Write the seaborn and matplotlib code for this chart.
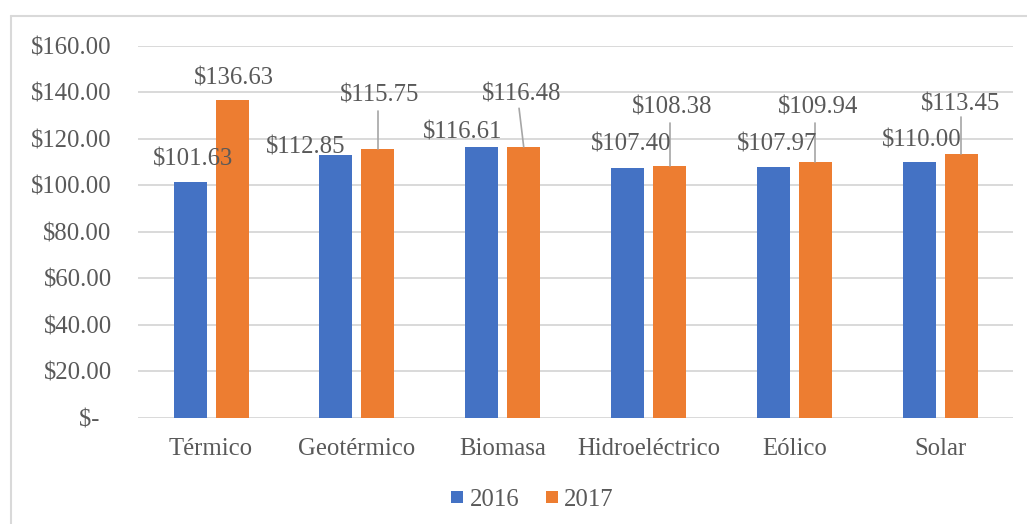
import pandas as pd
import numpy as np
import matplotlib.pyplot as plt
import seaborn as sns
from matplotlib.lines import Line2D

tipos = ['Térmico', 'Geotérmico', 'Biomasa', 'Hidroeléctrico', 'Eólico', 'Solar']
anios = ['2016', '2017']
valores_2016 = [101.63, 112.85, 116.61, 107.40, 107.97, 110.00]
valores_2017 = [136.63, 115.75, 116.48, 108.38, 109.94, 113.45]
yticks = [0, 20, 40, 60, 80, 100, 120, 140, 160]

df = pd.DataFrame({
    'tipo': tipos * 2,
    'anio': [anios[0]] * len(tipos) + [anios[1]] * len(tipos),
    'valor': valores_2016 + valores_2017,
})

color_anio = {'2016': '#4472C4', '2017': '#ED7D31'}
text_color = '#595959'
grid_color = '#D9D9D9'
fs = 17.8

sns.set_theme(style="white")
plt.rcParams['font.family'] = ['Liberation Serif', 'DejaVu Serif']

fig = plt.figure(figsize=(10.27, 5.24), dpi=100)
ax = fig.add_axes([0.1345, 0.2023, 0.852, 0.7105])

sns.barplot(data=df, x='tipo', y='valor', hue='anio', palette=color_anio,
            width=0.576, gap=0.214, errorbar=None, linewidth=0, saturation=1,
            legend=False, ax=ax, zorder=3)

ax.set_ylim(0, 160)
ax.set_xlim(-0.5, len(tipos) - 0.5)
ax.set_yticks(yticks)
ax.set_yticklabels([f'${v:.2f}' if v else '$-  ' for v in yticks])
ax.set_xlabel('')
ax.set_ylabel('')
ax.tick_params(axis='both', length=0, labelsize=fs, labelcolor=text_color)
ax.tick_params(axis='y', pad=19)
ax.tick_params(axis='x', pad=14.5)
ax.yaxis.grid(True, color=grid_color, linewidth=1.4, zorder=0)
ax.set_axisbelow(True)
for s in ax.spines.values():
    s.set_visible(False)

# data label placement (offset from category centre, text centre height)
label_dx_2016 = [-0.123, -0.348, -0.276, -0.122, -0.121, -0.126]
label_y_2016 = [111.2, 116.3, 122.8, 117.7, 117.7, 119.2]
label_dx_2017 = [0.158, 0.158, 0.130, 0.160, 0.163, 0.142]
label_y_2017 = [146.0, 138.5, 139.0, 133.5, 133.5, 134.9]
# leader lines for 2017 labels: top of the line
leader_top = [None, 132.1, 133.1, 126.9, 126.9, 129.2]
leader_dx_top = [None, 0.144, 0.112, 0.144, 0.144, 0.144]

bar_off = 0.144
for i in range(len(tipos)):
    ax.text(i + label_dx_2016[i], label_y_2016[i], f'${valores_2016[i]:.2f}',
            ha='center', va='center', fontsize=fs, color=text_color, zorder=5)
    ax.text(i + label_dx_2017[i], label_y_2017[i], f'${valores_2017[i]:.2f}',
            ha='center', va='center', fontsize=fs, color=text_color, zorder=5)
    if leader_top[i] is not None:
        ax.plot([i + leader_dx_top[i], i + bar_off], [leader_top[i], valores_2017[i]],
                color='#A6A6A6', linewidth=1.2, zorder=4)

handles = [Line2D([0], [0], marker='s', linestyle='none', markersize=8,
                  markerfacecolor=color_anio[a], markeredgewidth=0) for a in anios]
fig.legend(handles, anios, loc='center', bbox_to_anchor=(0.5166, 0.046), ncol=2,
           frameon=False, fontsize=fs, labelcolor=text_color,
           handletextpad=0.1, columnspacing=0.9, handlelength=0.8)

# chart area border (right and bottom edges fall outside the image)
fig.add_artist(Line2D([0.0104, 0.0104], [0.97, 0.0], color=grid_color, linewidth=1.5,
                      transform=fig.transFigure))
fig.add_artist(Line2D([0.0104, 1.0], [0.97, 0.97], color=grid_color, linewidth=1.5,
                      transform=fig.transFigure))

fig.savefig('out.png', dpi=100, facecolor='white')
